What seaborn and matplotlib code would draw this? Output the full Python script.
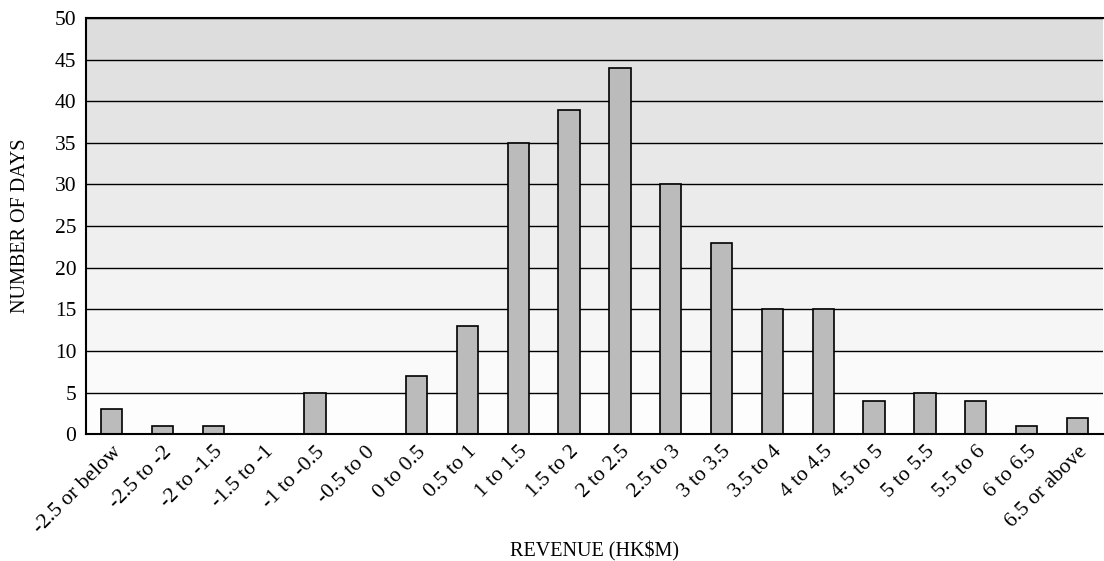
import numpy as np
import pandas as pd
import matplotlib
matplotlib.use('Agg')
import matplotlib.pyplot as plt
import seaborn as sns

bins = ['-2.5 or below', '-2.5 to -2', '-2 to -1.5', '-1.5 to -1', '-1 to -0.5',
        '-0.5 to 0', '0 to 0.5', '0.5 to 1', '1 to 1.5', '1.5 to 2', '2 to 2.5',
        '2.5 to 3', '3 to 3.5', '3.5 to 4', '4 to 4.5', '4.5 to 5', '5 to 5.5',
        '5.5 to 6', '6 to 6.5', '6.5 or above']
days = [3, 1, 1, 0, 5, 0, 7, 13, 35, 39, 44, 30, 23, 15, 15, 4, 5, 4, 1, 2]
yticks = list(range(0, 55, 5))

df = pd.DataFrame({'revenue': bins, 'days': days})

sns.set_style('white')
plt.rcParams['font.family'] = 'serif'
plt.rcParams['font.serif'] = ['Liberation Serif', 'Times New Roman', 'DejaVu Serif']
plt.rcParams['text.color'] = 'black'
plt.rcParams['xtick.color'] = 'black'
plt.rcParams['ytick.color'] = 'black'
plt.rcParams['axes.labelcolor'] = 'black'

fig = plt.figure(figsize=(11.04, 5.61), dpi=100)
ax = fig.add_axes([0.078, 0.226, 0.921, 0.742])

# banded grey background, darker toward the top
for i in range(len(yticks) - 1):
    g = 1.0 - (i + 0.5) / (len(yticks) - 1) * 0.14
    ax.axhspan(yticks[i], yticks[i + 1], color=(g, g, g), zorder=0, lw=0)
for t in yticks[1:]:
    ax.axhline(t, color='black', lw=1, zorder=1)

sns.barplot(data=df, x='revenue', y='days', color='#bbbbbb', edgecolor='black',
            linewidth=1.2, width=0.42, saturation=1, ax=ax, zorder=2)

ax.set_ylim(0, 50)
ax.set_xlim(-0.5, len(bins) - 0.5)
ax.set_yticks(yticks)
ax.set_xticks(range(len(bins)))
ax.set_xticklabels(bins, rotation=45, ha='right', rotation_mode='anchor')
ax.tick_params(axis='x', length=0, labelsize=15.5, pad=6)
ax.tick_params(axis='y', length=0, labelsize=15.5, pad=7)
ax.set_xticks(np.arange(0.5, len(bins) - 0.5, 1), minor=True)
ax.tick_params(axis='x', which='minor', direction='in', length=5, width=1, color='black')

for s in ['left', 'bottom', 'top']:
    ax.spines[s].set_color('black')
    ax.spines[s].set_linewidth(1.5)
ax.spines['right'].set_visible(False)

ax.set_xlabel('REVENUE (HK\\$M)', fontsize=14.5)
ax.xaxis.label.set_va('center')
ax.xaxis.set_label_coords(0.5, -0.281)
ax.set_ylabel('NUMBER OF DAYS', fontsize=14.5, labelpad=18)

fig.savefig('out.png', dpi=100)
